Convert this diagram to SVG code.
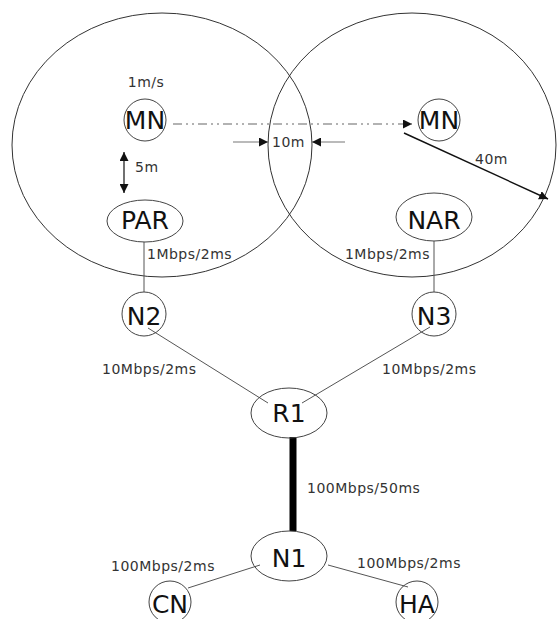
<svg xmlns="http://www.w3.org/2000/svg" width="557" height="619" viewBox="0 0 557 619">
<style>
.area{fill:none;stroke:#333;stroke-width:1}
.node{fill:none;stroke:#444;stroke-width:1}
.lbl{font-family:"DejaVu Sans",Verdana,sans-serif;font-size:25px;fill:#111;text-anchor:middle}
.sm{font-family:"DejaVu Sans",Verdana,sans-serif;font-size:14px;fill:#333;letter-spacing:0.5px}
.link{stroke:#555;stroke-width:1;fill:none}
</style>
<defs>
<marker id="ah" viewBox="0 0 10 10" refX="10" refY="5" markerWidth="9" markerHeight="9" markerUnits="userSpaceOnUse" orient="auto-start-reverse">
<path d="M0,0 L10,5 L0,10 z" fill="#111"/>
</marker>
</defs>
<rect width="557" height="619" fill="#fff"/>
<g id="areas">
<ellipse class="area" cx="162" cy="145" rx="150" ry="132"/>
<ellipse class="area" cx="412" cy="145" rx="144" ry="132"/>
</g>
<g id="connectors">
<line class="link" x1="144" y1="242" x2="144" y2="292"/>
<line class="link" x1="434" y1="241" x2="434" y2="292"/>
<line class="link" x1="148" y1="328" x2="268" y2="403"/>
<line class="link" x1="430" y1="327" x2="302" y2="403"/>
<line stroke="#000" stroke-width="7" x1="293" y1="437" x2="293" y2="531"/>
<line class="link" x1="260" y1="565" x2="188" y2="588"/>
<line class="link" x1="328" y1="565" x2="408" y2="587"/>
<line stroke="#666" stroke-width="1.2" stroke-dasharray="9,4,2,4,2,4" x1="173" y1="124" x2="412" y2="124" marker-end="url(#ah)"/>
<line stroke="#111" stroke-width="1.2" x1="124" y1="152" x2="124" y2="193" marker-start="url(#ah)" marker-end="url(#ah)"/>
<line stroke="#777" stroke-width="1.2" x1="233" y1="142" x2="268" y2="142" marker-end="url(#ah)"/>
<line stroke="#777" stroke-width="1.2" x1="345" y1="142" x2="312" y2="142" marker-end="url(#ah)"/>
<line stroke="#111" stroke-width="1.4" x1="404" y1="133" x2="548" y2="199" marker-end="url(#ah)"/>
</g>
<g id="labels">
<text class="sm" x="146" y="87" text-anchor="middle">1m/s</text>
<text class="sm" x="135" y="172">5m</text>
<text class="sm" x="272" y="147">10m</text>
<text class="sm" x="475" y="164">40m</text>
<text class="sm" x="147" y="259">1Mbps/2ms</text>
<text class="sm" x="430" y="259" text-anchor="end">1Mbps/2ms</text>
<text class="sm" x="102" y="374">10Mbps/2ms</text>
<text class="sm" x="382" y="374">10Mbps/2ms</text>
<text class="sm" x="307" y="493">100Mbps/50ms</text>
<text class="sm" x="111" y="571">100Mbps/2ms</text>
<text class="sm" x="357" y="568">100Mbps/2ms</text>
</g>
<g id="MN1"><circle class="node" cx="145" cy="120" r="21"/><text class="lbl" x="145" y="129">MN</text></g>
<g id="MN2"><circle class="node" cx="439" cy="120" r="21"/><text class="lbl" x="439" y="129">MN</text></g>
<g id="PAR"><ellipse class="node" cx="145" cy="221" rx="38" ry="21"/><text class="lbl" x="145" y="229">PAR</text></g>
<g id="NAR"><ellipse class="node" cx="434" cy="217" rx="38" ry="24"/><text class="lbl" x="434" y="229">NAR</text></g>
<g id="N2"><circle class="node" cx="144" cy="314" r="22"/><text class="lbl" x="144" y="325">N2</text></g>
<g id="N3"><circle class="node" cx="434" cy="314" r="22"/><text class="lbl" x="434" y="325">N3</text></g>
<g id="R1"><ellipse class="node" cx="289" cy="413" rx="38" ry="25"/><text class="lbl" x="289" y="422">R1</text></g>
<g id="N1"><ellipse class="node" cx="289" cy="556" rx="38" ry="25"/><text class="lbl" x="289" y="567">N1</text></g>
<g id="CN"><circle class="node" cx="170" cy="602" r="21"/><text class="lbl" x="170" y="613">CN</text></g>
<g id="HA"><circle class="node" cx="417" cy="602" r="21"/><text class="lbl" x="417" y="613">HA</text></g>
</svg>
